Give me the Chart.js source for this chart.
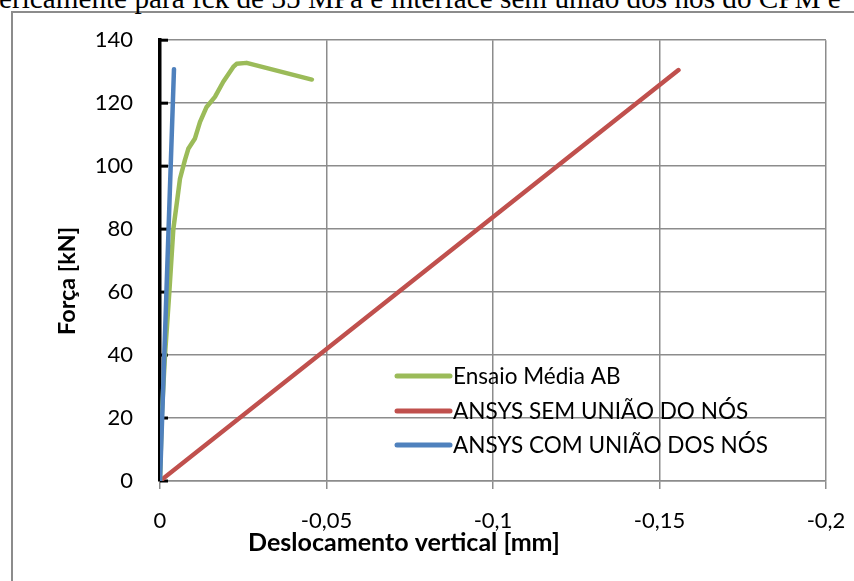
<!DOCTYPE html>
<html><head><meta charset="utf-8">
<script src="https://cdn.jsdelivr.net/npm/chart.js@4/dist/chart.umd.min.js"></script>
<style>
html,body{margin:0;padding:0;background:#fff;width:854px;height:581px;overflow:hidden;position:relative;}
#frame{position:absolute;left:11px;top:11px;width:900px;height:700px;border-left:2px solid #8c8c8c;border-top:2px solid #8c8c8c;}
#doc{position:absolute;left:-1px;top:0;font-family:"Liberation Serif",serif;font-size:30px;white-space:nowrap;color:#000;line-height:30px;}
canvas{position:absolute;left:0;top:0;}
</style></head><body>
<div id="frame"></div>
<div id="doc">ericamente para fck de 35 MPa e interface sem união dos nós do CPM e</div>
<canvas id="c" width="854" height="581"></canvas>
<script>
// ---- data ----
const seriesNames = ["Ensaio Média AB", "ANSYS SEM UNIÃO DO NÓS", "ANSYS COM UNIÃO DOS NÓS"];
const ensaioX = [0, -0.0005, -0.0015, -0.0028, -0.004, -0.0052, -0.006, -0.0075, -0.0085, -0.0105, -0.012, -0.014, -0.0165, -0.019, -0.022, -0.023, -0.026, -0.0456];
const ensaioY = [0, 20, 40, 60, 80, 89.5, 96, 102, 105.5, 108.8, 114, 118.8, 122, 126.8, 131.5, 132.5, 132.8, 127.5];
const semUniaoX = [0, -0.1557];
const semUniaoY = [0, 130.5];
const comUniaoX = [0, -0.0042];
const comUniaoY = [0, 130.8];
const xTickValues = [0, -0.05, -0.1, -0.15, -0.2];
const xTickLabels = ["0", "-0,05", "-0,1", "-0,15", "-0,2"];
const yTickValues = [0, 20, 40, 60, 80, 100, 120, 140];
const xTitle = "Deslocamento vertical [mm]";
const yTitle = "Força [kN]";

const colors = ["#9BBB59", "#C0504D", "#4F81BD"];
const FONT = "Lato";

// cropped document caption above the chart
(function(){
  const d = document.getElementById('doc');
  const c = document.createElement('canvas').getContext('2d');
  c.font = '30px "Liberation Serif"';
  const w = c.measureText(d.textContent).width;
  const size = 30 * 842 / w;
  d.style.fontSize = size + 'px';
  d.style.lineHeight = size + 'px';
  d.style.top = (10 - size * 0.891) + 'px';
})();

function pts(xs, ys){ return xs.map((x,i)=>({x:x, y:ys[i]})); }

function fitFont(ctx, text, weight, target){
  const s = 20;
  ctx.font = weight + " " + s + "px " + FONT;
  const w = ctx.measureText(text).width;
  return s * target / w;
}

const overlay = {
  id: 'overlay',
  beforeDatasetsDraw(chart){
    const ctx = chart.ctx, y = chart.scales.y, a = chart.chartArea;
    ctx.save();
    ctx.strokeStyle = '#000'; ctx.lineWidth = 3;
    yTickValues.forEach(v=>{
      const py = y.getPixelForValue(v);
      ctx.beginPath(); ctx.moveTo(a.left, py); ctx.lineTo(a.left + 8, py); ctx.stroke();
    });
    ctx.restore();
  },
  afterDraw(chart){
    const ctx = chart.ctx;
    ctx.save();
    // legend (inside plot area)
    const lsize = fitFont(ctx, seriesNames[2], "normal", 315);
    ctx.font = "normal " + lsize + "px " + FONT;
    ctx.textBaseline = 'middle'; ctx.textAlign = 'left';
    const rows = [376, 411, 445];
    chart.data.datasets.forEach((ds, i)=>{
      ctx.strokeStyle = ds.borderColor; ctx.lineWidth = 5; ctx.lineCap = 'round';
      ctx.beginPath(); ctx.moveTo(397, rows[i]); ctx.lineTo(450, rows[i]); ctx.stroke();
      ctx.fillStyle = '#000';
      ctx.fillText(ds.label, 453, rows[i] + 1);
    });
    // x title
    const xs = fitFont(ctx, xTitle, "bold", 312);
    ctx.font = "bold " + xs + "px " + FONT;
    ctx.textBaseline = 'alphabetic';
    ctx.fillText(xTitle, 248, 551);
    // y title
    const ys = fitFont(ctx, yTitle, "bold", 108);
    ctx.font = "bold " + ys + "px " + FONT;
    ctx.translate(67, 281); ctx.rotate(-Math.PI/2);
    ctx.textAlign = 'center'; ctx.textBaseline = 'middle';
    ctx.fillText(yTitle, 0, 0);
    ctx.restore();
  }
};

const datasets = [
  {label: seriesNames[0], data: pts(ensaioX, ensaioY), borderColor: colors[0], order: 1},
  {label: seriesNames[1], data: pts(semUniaoX, semUniaoY), borderColor: colors[1], order: 2},
  {label: seriesNames[2], data: pts(comUniaoX, comUniaoY), borderColor: colors[2], order: 0}
].map(d=>Object.assign(d, {showLine: true, borderWidth: 4.5, pointRadius: 0, fill: false, tension: 0, borderCapStyle: 'round', borderJoinStyle: 'round', backgroundColor: d.borderColor}));

new Chart(document.getElementById('c'), {
  type: 'scatter',
  data: {datasets},
  plugins: [overlay],
  options: {
    responsive: false, animation: false, devicePixelRatio: 1,
    layout: {padding: {top: 40, right: 28, left: 0, bottom: 0}},
    plugins: {legend: {display: false}, tooltip: {enabled: false}},
    scales: {
      x: {
        type: 'linear', reverse: true, min: -0.2, max: 0,
        afterBuildTicks: s => { s.ticks = xTickValues.map(v=>({value: v})); },
        afterFit: s => { s.height = 100; s.paddingLeft = 0; s.paddingRight = 0; },
        ticks: {
          callback: v => { const i = xTickValues.findIndex(t=>Math.abs(t-v)<1e-9); return i>=0 ? xTickLabels[i] : ''; },
          font: {family: FONT, size: 22}, color: '#000', padding: 19, maxRotation: 0, autoSkip: false
        },
        grid: {color: '#8c8c8c', lineWidth: 1.5, drawTicks: true, tickLength: 8, tickColor: '#8c8c8c'},
        border: {color: '#8c8c8c', width: 1.5}
      },
      y: {
        type: 'linear', min: 0, max: 140,
        afterBuildTicks: s => { s.ticks = yTickValues.map(v=>({value: v})); },
        afterFit: s => { s.width = 160; },
        ticks: {font: {family: FONT, size: 22}, color: '#000', padding: 27},
        grid: {color: '#8c8c8c', lineWidth: 1.5, drawTicks: false},
        border: {color: '#000', width: 3.5}
      }
    }
  }
});
</script>
</body></html>
